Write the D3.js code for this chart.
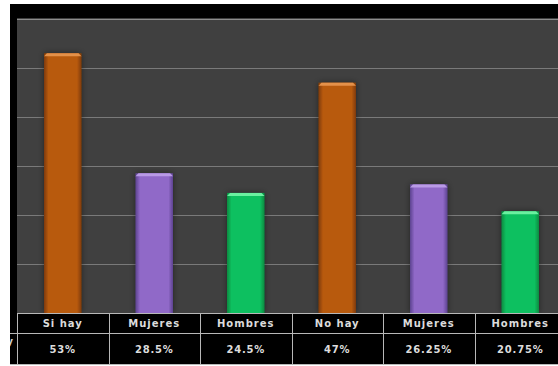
<!DOCTYPE html>
<html>
<head>
<meta charset="utf-8">
<script src="https://cdn.jsdelivr.net/npm/d3@7"></script>
<style>
  html, body { margin: 0; padding: 0; background: #fff; }
  svg { display: block; }
  text { font-family: "DejaVu Sans", "Liberation Sans", sans-serif; }
</style>
</head>
<body>
<svg id="chart" width="558" height="366"></svg>
<script>
// Categories and values (percent)
const categories = ["Si hay", "Mujeres", "Hombres", "No hay", "Mujeres", "Hombres"];
const values = [53, 28.5, 24.5, 47, 26.25, 20.75];
const valueLabels = ["53%", "28.5%", "24.5%", "47%", "26.25%", "20.75%"];
const colorKeys = ["orange", "purple", "green", "orange", "purple", "green"];
const yTicks = [0, 10, 20, 30, 40, 50, 60];

const palette = {
  orange: { edge: "#7e3a06", mid: "#b85a0e", top: "#e4914a" },
  purple: { edge: "#5c4290", mid: "#9069c8", top: "#b99ae6" },
  green:  { edge: "#078a40", mid: "#10c060", top: "#6af0a0" }
};

const svg = d3.select("#chart");
const W = 558, H = 366;

const plot = { left: 17, top: 19, bottom: 313, right: 566 };

const x = d3.scaleBand()
  .domain(d3.range(categories.length))
  .range([plot.left, plot.right])
  .paddingInner(0).paddingOuter(0);

const y = d3.scaleLinear()
  .domain([0, 60])
  .range([plot.bottom, plot.top]);

// gradients for the bevelled bars
const defs = svg.append("defs");
Object.entries(palette).forEach(([k, c]) => {
  const g = defs.append("linearGradient").attr("id", "grad-" + k)
    .attr("x1", "0").attr("x2", "1").attr("y1", "0").attr("y2", "0");
  g.append("stop").attr("offset", "0%").attr("stop-color", c.edge);
  g.append("stop").attr("offset", "12%").attr("stop-color", c.mid);
  g.append("stop").attr("offset", "50%").attr("stop-color", c.mid);
  g.append("stop").attr("offset", "88%").attr("stop-color", c.mid);
  g.append("stop").attr("offset", "100%").attr("stop-color", c.edge);
});
const shadow = defs.append("filter").attr("id", "barShadow")
  .attr("x", "-40%").attr("y", "-10%").attr("width", "180%").attr("height", "120%");
shadow.append("feGaussianBlur").attr("in", "SourceAlpha").attr("stdDeviation", 3).attr("result", "b");
shadow.append("feComponentTransfer").attr("in", "b").attr("result", "s")
  .append("feFuncA").attr("type", "linear").attr("slope", 0.45);
const merge = shadow.append("feMerge");
merge.append("feMergeNode").attr("in", "s");
merge.append("feMergeNode").attr("in", "SourceGraphic");

defs.append("clipPath").attr("id", "tableClip")
  .append("rect").attr("x", 10).attr("y", 0).attr("width", W - 10).attr("height", H);

// black frame and grey plotting area
svg.append("rect").attr("x", 10).attr("y", 4).attr("width", W - 10).attr("height", plot.bottom - 4)
  .attr("fill", "#000");
svg.append("rect").attr("x", plot.left).attr("y", 18).attr("width", W - plot.left)
  .attr("height", plot.bottom - 18).attr("fill", "#404040");

// horizontal gridlines
svg.append("g").selectAll("line").data(yTicks.slice(1)).join("line")
  .attr("x1", plot.left).attr("x2", W)
  .attr("y1", d => Math.round(y(d)) + 0.5).attr("y2", d => Math.round(y(d)) + 0.5)
  .attr("stroke", d => d === 60 ? "#8c8c8c" : "#7a7a7a").attr("stroke-width", 1.2);

// bars
const barW = x.bandwidth() * 0.41;
const bars = svg.append("g").selectAll("g").data(values).join("g")
  .attr("filter", "url(#barShadow)");
bars.append("rect")
  .attr("x", (d, i) => x(i) + (x.bandwidth() - barW) / 2)
  .attr("y", d => y(d))
  .attr("width", barW)
  .attr("height", d => y(0) - y(d))
  .attr("fill", (d, i) => `url(#grad-${colorKeys[i]})`);
// top bevel highlight
bars.append("path")
  .attr("d", (d, i) => {
    const x0 = x(i) + (x.bandwidth() - barW) / 2, y0 = y(d);
    return `M${x0},${y0 + 3} L${x0 + 3},${y0} L${x0 + barW - 3},${y0} L${x0 + barW},${y0 + 3} Z`;
  })
  .attr("fill", (d, i) => palette[colorKeys[i]].top);

// data table beneath the plot
const rowTop = 313, rowMid = 333, rowBot = 364;
const table = svg.append("g").attr("clip-path", "url(#tableClip)");
table.append("rect").attr("x", 10).attr("y", rowTop).attr("width", W - 10).attr("height", rowBot - rowTop)
  .attr("fill", "#000");

const lineColor = "#b8b8b8";
table.append("line").attr("x1", plot.left).attr("x2", W).attr("y1", rowTop + 0.5).attr("y2", rowTop + 0.5)
  .attr("stroke", lineColor);
table.append("line").attr("x1", 10).attr("x2", W).attr("y1", rowMid + 0.5).attr("y2", rowMid + 0.5)
  .attr("stroke", lineColor);
table.append("line").attr("x1", 10).attr("x2", W).attr("y1", rowBot + 0.5).attr("y2", rowBot + 0.5)
  .attr("stroke", lineColor);
table.selectAll("line.v").data(d3.range(categories.length)).join("line")
  .attr("class", "v")
  .attr("x1", i => Math.round(x(i)) + 0.5).attr("x2", i => Math.round(x(i)) + 0.5)
  .attr("y1", rowTop).attr("y2", rowBot)
  .attr("stroke", lineColor);

table.selectAll("text.cat").data(categories).join("text")
  .attr("class", "cat")
  .attr("x", (d, i) => x(i) + x.bandwidth() / 2)
  .attr("y", rowTop + 14)
  .attr("text-anchor", "middle")
  .attr("fill", "#dcdcdc")
  .attr("font-size", 10)
  .attr("font-weight", "bold")
  .attr("letter-spacing", 1)
  .text(d => d);

table.selectAll("text.val").data(valueLabels).join("text")
  .attr("class", "val")
  .attr("x", (d, i) => x(i) + x.bandwidth() / 2)
  .attr("y", rowMid + 20)
  .attr("text-anchor", "middle")
  .attr("fill", "#dcdcdc")
  .attr("font-size", 10)
  .attr("font-weight", "bold")
  .attr("letter-spacing", 0.8)
  .text(d => d);

// clipped row header remnant
table.append("text")
  .attr("x", 13).attr("y", rowMid + 12)
  .attr("text-anchor", "end")
  .attr("fill", "#d0d0d0")
  .attr("font-size", 10)
  .attr("font-weight", "bold")
  .text("y");
</script>
</body>
</html>
